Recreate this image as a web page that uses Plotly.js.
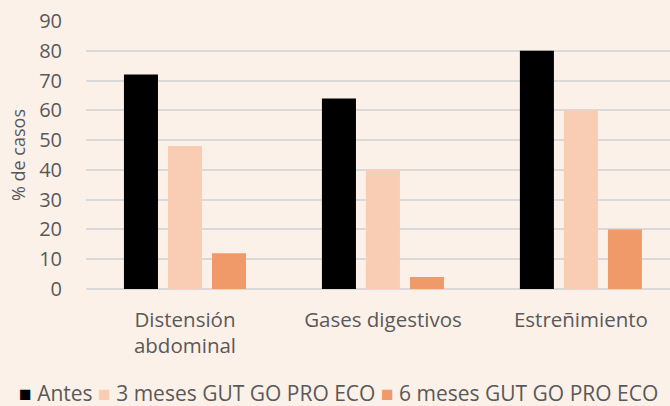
<!DOCTYPE html>
<html><head><meta charset="utf-8">
<script src="https://cdn.plot.ly/plotly-3.0.1.min.js"></script>
<style>body{margin:0;background:#FCF1E9}</style>
</head><body>
<div id="chart" style="width:670px;height:406px"></div>
<script>
const categories = ["Distensión<br>abdominal", "Gases digestivos", "Estreñimiento"];
const seriesNames = ["Antes", "3 meses GUT GO PRO ECO", "6 meses GUT GO PRO ECO"];
const antes = [72, 64, 80];
const meses3 = [48, 40, 60];
const meses6 = [12, 4, 20];
const colors = ["#000000", "#F9CDB4", "#F09A6A"];
const yTicks = [0, 10, 20, 30, 40, 50, 60, 70, 80, 90];

const traces = [antes, meses3, meses6].map((v, i) => ({
  type: "bar", x: categories, y: v, name: seriesNames[i],
  marker: {color: colors[i]}, showlegend: false
}));

const legendText = seriesNames.map((n, i) =>
  `<span style="color:${colors[i]}">■</span> ${n}`).join(" ");

const layout = {
  width: 670, height: 406,
  paper_bgcolor: "#FCF1E9", plot_bgcolor: "#FCF1E9",
  font: {family: "'Open Sans', sans-serif", color: "#595959", size: 19},
  margin: {l: 86, r: 0, t: 21, b: 117},
  barmode: "group", bargap: 0.333, bargroupgap: 0.227,
  xaxis: {range: [-0.5, 2.45], showgrid: false, ticks: "", showline: false, zeroline: false,
          tickfont: {size: 20.5}, ticklabelstandoff: 16},
  yaxis: {range: [0, 90], tickvals: yTicks, gridcolor: "#D9D9D9", gridwidth: 1.5,
          zeroline: true, zerolinecolor: "#D9D9D9", zerolinewidth: 1.5,
          tickfont: {size: 20}, ticklabelstandoff: 23,
          title: {text: "% de casos", font: {size: 18}, standoff: 8}},
  showlegend: false,
  annotations: [{
    text: legendText, showarrow: false, xref: "paper", yref: "paper",
    x: 0.432, xanchor: "center", y: -0.388, yanchor: "middle",
    font: {size: 21, color: "#595959"}
  }]
};
Plotly.newPlot("chart", traces, layout, {displayModeBar: false});
</script>
</body></html>
